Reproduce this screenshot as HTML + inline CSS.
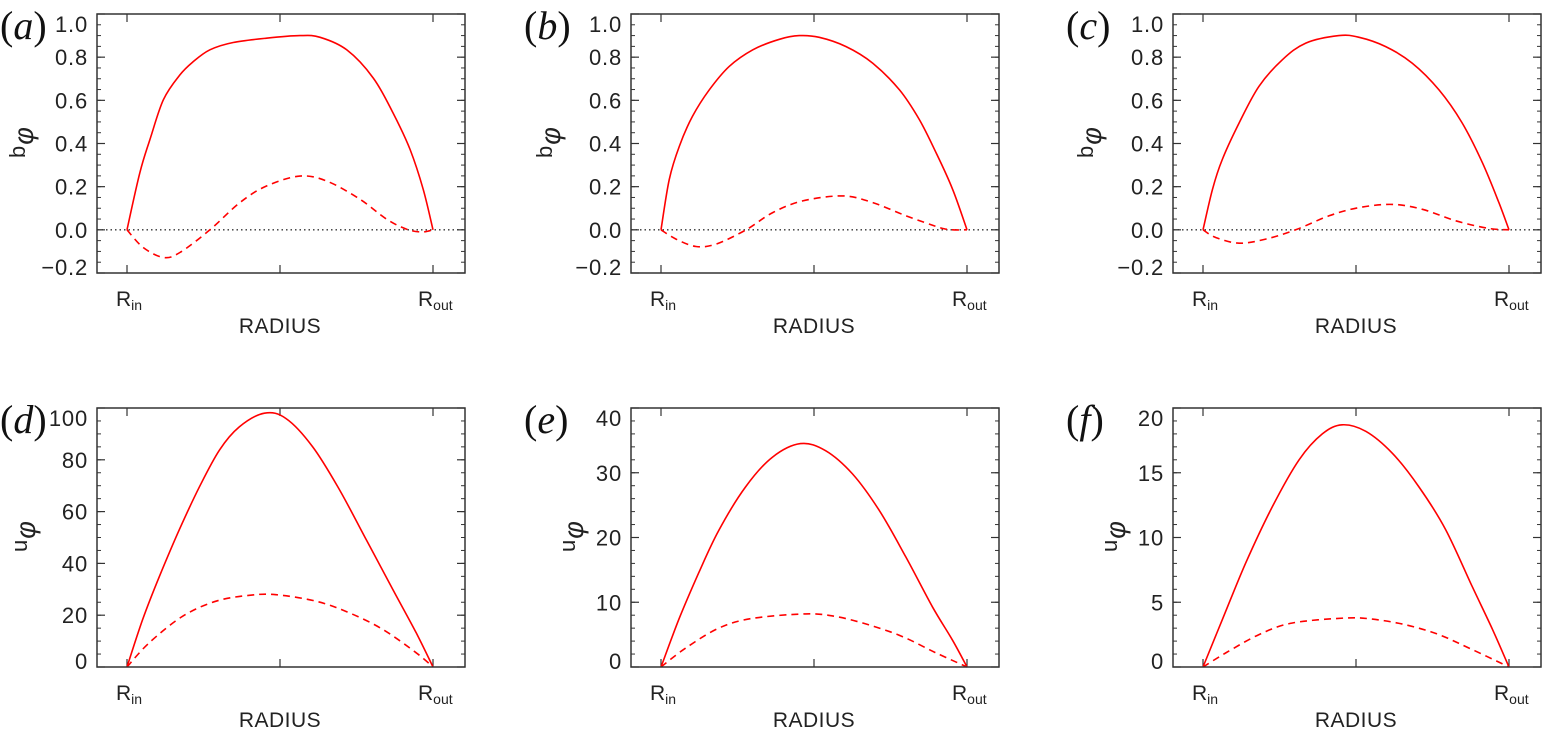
<!DOCTYPE html>
<html><head><meta charset="utf-8">
<style>
html,body{margin:0;padding:0;background:#fff;}
svg{display:block;}
text{font-family:"Liberation Sans",sans-serif;fill:#222;}
.pl{font-family:"Liberation Serif",serif;font-size:40px;fill:#111;}
</style></head>
<body>
<svg id="fig" width="1542" height="729" viewBox="0 0 1542 729" xmlns="http://www.w3.org/2000/svg"></svg>
<script>
// r is normalized radius (0 = R_in, 1 = R_out)
const aSolidR=[0,0.042,0.075,0.119,0.173,0.217,0.271,0.347,0.456,0.565,0.631,0.718,0.805,0.87,0.925,0.968,1];
const aSolidV=[0,0.265,0.418,0.603,0.718,0.78,0.834,0.868,0.888,0.9,0.892,0.834,0.703,0.54,0.372,0.188,0];
const aDashR=[0,0.053,0.119,0.173,0.271,0.369,0.456,0.565,0.653,0.761,0.849,0.914,0.963,1];
const aDashV=[0,-0.082,-0.128,-0.105,0,0.126,0.203,0.249,0.226,0.142,0.049,0.003,-0.01,0];
const bSolidR=[0,0.027,0.06,0.103,0.158,0.223,0.3,0.387,0.452,0.517,0.605,0.692,0.779,0.844,0.899,0.953,1];
const bSolidV=[0,0.234,0.388,0.526,0.649,0.757,0.834,0.883,0.9,0.892,0.849,0.772,0.649,0.511,0.357,0.188,0];
const bDashR=[0,0.049,0.114,0.18,0.278,0.365,0.463,0.594,0.692,0.801,0.91,0.953,1];
const bDashV=[0,-0.043,-0.077,-0.066,0,0.08,0.134,0.157,0.126,0.065,0.011,0,0];
const cSolidR=[0,0.031,0.063,0.118,0.183,0.259,0.336,0.444,0.51,0.597,0.684,0.771,0.847,0.913,0.967,1];
const cSolidV=[0,0.188,0.326,0.495,0.665,0.788,0.865,0.9,0.892,0.849,0.772,0.649,0.495,0.311,0.126,0];
const cDashR=[0,0.041,0.118,0.205,0.303,0.412,0.51,0.619,0.717,0.826,0.935,1];
const cDashV=[0,-0.035,-0.062,-0.043,0,0.065,0.103,0.118,0.095,0.042,0.006,0];
const dSolidR=[0,0.051,0.106,0.171,0.237,0.302,0.367,0.449,0.52,0.607,0.695,0.782,0.869,0.945,1];
const dSolidV=[0,18.3,35,53,69.6,83.7,92.7,98,95.9,85,68.3,49.1,29.9,13.2,0];
const dDashR=[0,0.073,0.182,0.291,0.4,0.487,0.618,0.727,0.836,0.945,1];
const dDashV=[0,9.4,19.6,25.4,27.7,27.9,25.4,20.9,14.5,5.5,0];
const eSolidR=[0,0.058,0.123,0.189,0.276,0.364,0.456,0.538,0.626,0.713,0.8,0.887,0.952,1];
const eSolidV=[0,7.3,14.5,21.1,27.8,32.4,34.5,33.4,29.8,24.2,17,9.3,4.2,0];
const eDashR=[0,0.08,0.189,0.298,0.473,0.571,0.68,0.789,0.898,1];
const eDashV=[0,2.9,6,7.5,8.2,7.8,6.5,4.7,2.2,0];
const fSolidR=[0,0.063,0.139,0.227,0.314,0.39,0.455,0.532,0.619,0.706,0.793,0.88,0.946,1];
const fSolidV=[0,3.65,8.0,12.4,16.0,18.0,18.7,18.2,16.5,13.9,10.6,6.2,2.9,0];
const fDashR=[0,0.074,0.183,0.292,0.466,0.553,0.662,0.771,0.88,1];
const fDashV=[0,1.08,2.5,3.4,3.78,3.7,3.26,2.5,1.34,0];
const topTicks=["-0.2","0.0","0.2","0.4","0.6","0.8","1.0"];
const dTicks=["0","20","40","60","80","100"];
const eTicks=["0","10","20","30","40"];
const fTicks=["0","5","10","15","20"];

const NS="http://www.w3.org/2000/svg";
const svg=document.getElementById('fig');
function mk(tag,attrs,parent,txt){const e=document.createElementNS(NS,tag);for(const k in attrs)e.setAttribute(k,attrs[k]);if(txt!==undefined)e.textContent=txt;(parent||svg).appendChild(e);return e;}
function smooth(pts){let d="M"+pts[0][0].toFixed(1)+","+pts[0][1].toFixed(1);
 for(let i=0;i<pts.length-1;i++){const p0=pts[Math.max(0,i-1)],p1=pts[i],p2=pts[i+1],p3=pts[Math.min(pts.length-1,i+2)];
  const c1=[p1[0]+(p2[0]-p0[0])/6,p1[1]+(p2[1]-p0[1])/6],c2=[p2[0]-(p3[0]-p1[0])/6,p2[1]-(p3[1]-p1[1])/6];
  d+=" C"+c1[0].toFixed(1)+","+c1[1].toFixed(1)+" "+c2[0].toFixed(1)+","+c2[1].toFixed(1)+" "+p2[0].toFixed(1)+","+p2[1].toFixed(1);}
 return d;}

function panel(o){
 const g=mk('g',{});
 
 
 const L=o.left,R=o.left+368,T=o.top,B=o.top+259;
 const xr0=L+30,xr1=L+336;
 const xs=r=>xr0+r*(xr1-xr0);
 const ys=v=>B-(v-o.ymin)/(o.ymax-o.ymin)*(B-T);
 for(let v=o.ymin;v<=o.ymax+1e-9;v+=o.minor){const vv=Math.round(v/o.minor)*o.minor;const y=ys(vv);
  mk('line',{x1:L,x2:L+4,y1:y,y2:y,stroke:'#333','stroke-width':1},g);mk('line',{x1:R,x2:R-4,y1:y,y2:y,stroke:'#333','stroke-width':1},g);}
 const n=o.ticks.length;
 o.ticks.forEach((t,i)=>{const v=parseFloat(t),y=ys(v);
  mk('line',{x1:L,x2:L+8,y1:y,y2:y,stroke:'#333','stroke-width':1.2},g);mk('line',{x1:R,x2:R-8,y1:y,y2:y,stroke:'#333','stroke-width':1.2},g);
  let off=8; if(i===n-1) off=18; if(i===0) off=2;
  const tx=mk('text',{x:L-9,y:y+off,'text-anchor':'end','font-size':22,'letter-spacing':'0.8'},g,t.replace('-','\u2212'));
  
  });
 [0,0.5,1].forEach(r=>{const x=xs(r);mk('line',{x1:x,x2:x,y1:B,y2:B-8,stroke:'#333','stroke-width':1.2},g);mk('line',{x1:x,x2:x,y1:T,y2:T+8,stroke:'#333','stroke-width':1.2},g);});
 if(o.zero){const z=mk('line',{x1:L,x2:R,y1:ys(0),y2:ys(0),stroke:'#333','stroke-width':1.3,'stroke-dasharray':'1.5,3'},g);
  
  }
 const s=mk('path',{d:smooth(o.sr.map((r,i)=>[xs(r),ys(o.sv[i])])),fill:'none',stroke:'#f00','stroke-width':1.6},g);
 
 
 const d=mk('path',{d:smooth(o.dr.map((r,i)=>[xs(r),ys(o.dv[i])])),fill:'none',stroke:'#f00','stroke-width':1.6,'stroke-dasharray':'7,5'},g);
 
 
 const box=mk('rect',{x:L,y:T,width:368,height:B-T,fill:'none',stroke:'#333','stroke-width':1.5},g);
 
 
 const ri=mk('text',{x:xs(0)-11,y:B+33,'font-size':21},g);ri.innerHTML='R<tspan font-size="14" dy="4">in</tspan>';
 
 
 const ro=mk('text',{x:xs(1)-15,y:B+33,'font-size':21},g);ro.innerHTML='R<tspan font-size="14" dy="4">out</tspan>';
 
 
 const xt=mk('text',{x:xs(0.5),y:B+60,'text-anchor':'middle','font-size':21,'letter-spacing':'0.5'},g,'RADIUS');
 
 
 const yt=mk('text',{x:0,y:0,'font-size':22,transform:`translate(${o.ytx},${T+144}) rotate(-90)`},g);
 yt.innerHTML=o.yl+'<tspan font-size="27" dy="8" dx="1" font-style="italic">\u03c6</tspan>';
 
 
 const pl=mk('text',{x:o.plx,y:T+25,class:'pl'},g);
 pl.innerHTML='(<tspan font-style="italic">'+o.id+'</tspan>)';
 
 
}
const topT=14,botT=408;
panel({id:'a',left:97,top:topT,ymin:-0.2,ymax:1.0,minor:0.05,ticks:topTicks,zero:true,sr:aSolidR,sv:aSolidV,dr:aDashR,dv:aDashV,yl:'b',ytx:25,plx:0});
panel({id:'b',left:631,top:topT,ymin:-0.2,ymax:1.0,minor:0.05,ticks:topTicks,zero:true,sr:bSolidR,sv:bSolidV,dr:bDashR,dv:bDashV,yl:'b',ytx:552,plx:524});
panel({id:'c',left:1173,top:topT,ymin:-0.2,ymax:1.0,minor:0.05,ticks:topTicks,zero:true,sr:cSolidR,sv:cSolidV,dr:cDashR,dv:cDashV,yl:'b',ytx:1093,plx:1066});
panel({id:'d',left:97,top:botT,ymin:0,ymax:100,minor:5,ticks:dTicks,zero:false,sr:dSolidR,sv:dSolidV,dr:dDashR,dv:dDashV,yl:'u',ytx:27,plx:0});
panel({id:'e',left:631,top:botT,ymin:0,ymax:40,minor:2,ticks:eTicks,zero:false,sr:eSolidR,sv:eSolidV,dr:eDashR,dv:eDashV,yl:'u',ytx:575,plx:524});
panel({id:'f',left:1173,top:botT,ymin:0,ymax:20,minor:1,ticks:fTicks,zero:false,sr:fSolidR,sv:fSolidV,dr:fDashR,dv:fDashV,yl:'u',ytx:1117,plx:1066});
</script>
</body></html>
